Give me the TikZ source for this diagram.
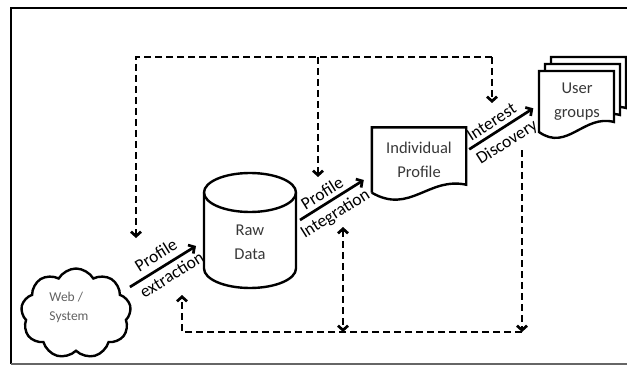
\documentclass[tikz,border=0pt]{standalone}
\usepackage{fontspec}
\setmainfont{Carlito}
\usetikzlibrary{arrows.meta,shapes.symbols}

\begin{document}
\begin{tikzpicture}[x=1pt, y=1pt,
    >={Straight Barb[length=4.5pt,width=10pt]},
    outline/.style={line width=2.4pt, black},
    plainbox/.style={inner sep=0pt, outer sep=0pt},
    boxtext/.style={align=center, text=black!78, inner sep=0pt, font=\fontsize{16.5}{24}\selectfont},
    webtext/.style={align=left, text=black!62, inner sep=0pt, font=\fontsize{13.5}{19}\selectfont},
    flow/.style={line width=2.7pt, ->},
    flowtext/.style={sloped, inner sep=1pt, font=\fontsize{17.5}{20}\selectfont},
    feedback/.style={line width=2.7pt, dash pattern=on 7pt off 4pt}]

    \useasboundingbox (0,0) rectangle (627,365);

    % frame
    \draw[line width=1.8pt] (640,357) -- (11,357) -- (11,1);
    \draw[line width=1.4pt, black!60] (11,1) -- (640,1);

    % web / system
    \node [cloud, cloud puffs=9, cloud puff arc=120, aspect=1.2, draw, outline,
           minimum width=110pt, minimum height=90pt, plainbox] (web) at (76,51.5) {};
    \node [webtext] (webtxt) at (69,57.5) {Web /\\System};

    % raw data
    \node [plainbox, minimum width=92pt, minimum height=115pt,
           label={[boxtext, yshift=-11.5pt]center:{Raw\\Data}}] (raw) at (250,134.5) {};
    \draw[outline] ([yshift=-19.5pt]raw.north west) -- ([yshift=19.5pt]raw.south west)
        arc[start angle=180, end angle=360, x radius=46pt, y radius=19.5pt]
        -- ([yshift=-19.5pt]raw.north east);
    \draw[outline] ([yshift=-19.5pt]raw.north) ellipse[x radius=46pt, y radius=19.5pt];

    % individual profile
    \node [boxtext, minimum width=94pt, minimum height=65pt] (indiv) at (419,205) {Individual\\Profile};
    \draw[outline] (indiv.south west) -- (indiv.north west) -- (indiv.north east)
        -- ([yshift=8pt]indiv.south east) .. controls +(-38,8) and +(38,-22) .. (indiv.south west);

    % user groups
    \foreach \dx/\dy in {12/14, 6/7, 0/0}
        \draw[outline, fill=white] (539+\dx,233+\dy) -- (539+\dx,294+\dy) -- (614+\dx,294+\dy)
            -- (614+\dx,243+\dy) .. controls +(-30,8) and +(28,-20) .. (539+\dx,233+\dy) -- cycle;
    \node [boxtext, minimum width=75pt, minimum height=61pt] (groups) at (577,263.5) {User\\groups};

    % flow
    \draw[flow] ([yshift=26.5pt]web.east) -- ([shift={(-8pt,-15.5pt)}]raw.west)
        node[flowtext, above=5pt, pos=0.5] {Profile}
        node[flowtext, below=3pt, pos=0.54] {extraction};
    \draw[flow] ([shift={(4pt,10.5pt)}]raw.east) -- ([shift={(-8pt,-20pt)}]indiv.west)
        node[flowtext, above=3pt, pos=0.44] {Profile}
        node[flowtext, below=4pt, pos=0.44] {Integration};
    \draw[flow] ([shift={(3pt,10.7pt)}]indiv.east) -- ([shift={(-6pt,-6.8pt)}]groups.west)
        node[flowtext, above=3pt, pos=0.44] {Interest}
        node[flowtext, below=5pt, pos=0.47] {Discovery};

    % feedback
    \coordinate (topR) at (492,308);
    \coordinate (extrDn) at (136,127);
    \coordinate (integDn) at (318,188);
    \coordinate (discDn) at (492,262);
    \coordinate (botR) at (522,33);
    \coordinate (extrUp) at (182,70);
    \coordinate (integUp) at (343,138);
    \coordinate (integBot) at (343,33);
    \coordinate (discUp) at (522,215);

    \draw[feedback, ->] (topR) -| (extrDn);
    \draw[feedback, ->] (318,308) -- (integDn);
    \draw[feedback, ->] (topR) -- (discDn);
    \draw[feedback, ->] (botR) -| (extrUp);
    \draw[feedback, <->] (integUp) -- (integBot);
    \draw[feedback, ->] (discUp) -- (botR);
\end{tikzpicture}
\end{document}
